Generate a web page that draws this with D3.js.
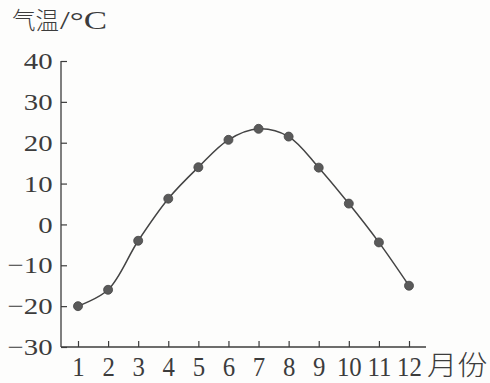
<!DOCTYPE html>
<html>
<head>
<meta charset="utf-8">
<script src="https://cdn.jsdelivr.net/npm/d3@7"></script>
<style>
html,body{margin:0;padding:0;background:#fdfdfc;}
svg{display:block;}
</style>
</head>
<body>
<svg id="chart" width="490" height="383"></svg>
<script>
const months = [1,2,3,4,5,6,7,8,9,10,11,12];
const temps = [-20,-16,-4,6.3,14,20.7,23.4,21.5,13.9,5.1,-4.4,-15];
const yTicks = [40,30,20,10,0,-10,-20,-30];
const yTitleCJK = "气温";
const yTitleUnit = "/°C";
const xTitle = "月份";

const svg = d3.select("#chart");
const ink = "#3c3c3c";
const serif = "'Liberation Serif','DejaVu Serif',serif";
const cjk = "'Noto Sans CJK SC',sans-serif";
const x = d3.scaleLinear().domain([1,12]).range([78,409]);
const y = d3.scaleLinear().domain([-30,40]).range([347,61]);

// axes lines
svg.append("line").attr("x1",61).attr("x2",61).attr("y1",y(40)).attr("y2",y(-30))
  .attr("stroke",ink).attr("stroke-width",1.3);
svg.append("line").attr("x1",61).attr("x2",426).attr("y1",y(-30)).attr("y2",y(-30))
  .attr("stroke",ink).attr("stroke-width",1.3);

const yAxis = svg.append("g").attr("transform","translate(61,0)")
  .call(d3.axisLeft(y).tickValues(yTicks).tickSizeInner(-6).tickSizeOuter(0).tickPadding(8)
    .tickFormat(d => d < 0 ? "\u2212" + Math.abs(d) : d));
yAxis.select(".domain").remove();
yAxis.selectAll("line").attr("stroke",ink).attr("stroke-width",1.2);
yAxis.selectAll("text").attr("fill",ink).attr("x",-7)
  .attr("transform","scale(1.2,1)")
  .style("font-family",serif).style("font-size","24px");

const xAxis = svg.append("g").attr("transform",`translate(0,${y(-30)})`)
  .call(d3.axisBottom(x).tickValues(months).tickSizeInner(-6).tickSizeOuter(0).tickPadding(10)
    .tickFormat(d3.format("d")));
xAxis.select(".domain").remove();
xAxis.selectAll("line").attr("stroke",ink).attr("stroke-width",1.2);
xAxis.selectAll("text").attr("fill",ink)
  .attr("transform","scale(0.92,1)")
  .style("font-family",serif).style("font-size","27px");

// titles
svg.append("text").attr("transform","translate(12,28.5) scale(0.98,1)").attr("fill",ink)
  .style("font-family",cjk).style("font-size","24px").style("font-weight","300")
  .text(yTitleCJK);
svg.append("text").attr("transform","translate(60,28.5) scale(1.4,1)").attr("fill",ink)
  .style("font-family",serif).style("font-size","25px")
  .text(yTitleUnit);
svg.append("text").attr("transform","translate(427,375) scale(1.12,1)").attr("fill",ink)
  .style("font-family",cjk).style("font-size","27px").style("font-weight","300")
  .text(xTitle);

// curve
const data = months.map((m,i)=>({m, t: temps[i]}));
svg.append("path").datum(data)
  .attr("fill","none").attr("stroke","#444").attr("stroke-width",1.5)
  .attr("d", d3.line().x(d=>x(d.m)).y(d=>y(d.t)).curve(d3.curveCatmullRom.alpha(0.5)));

svg.selectAll("circle.pt").data(data).enter().append("circle")
  .attr("class","pt").attr("cx",d=>x(d.m)).attr("cy",d=>y(d.t)).attr("r",4.5)
  .attr("fill","#5a5a5a").attr("stroke","#444").attr("stroke-width",0.8);
</script>
</body>
</html>
